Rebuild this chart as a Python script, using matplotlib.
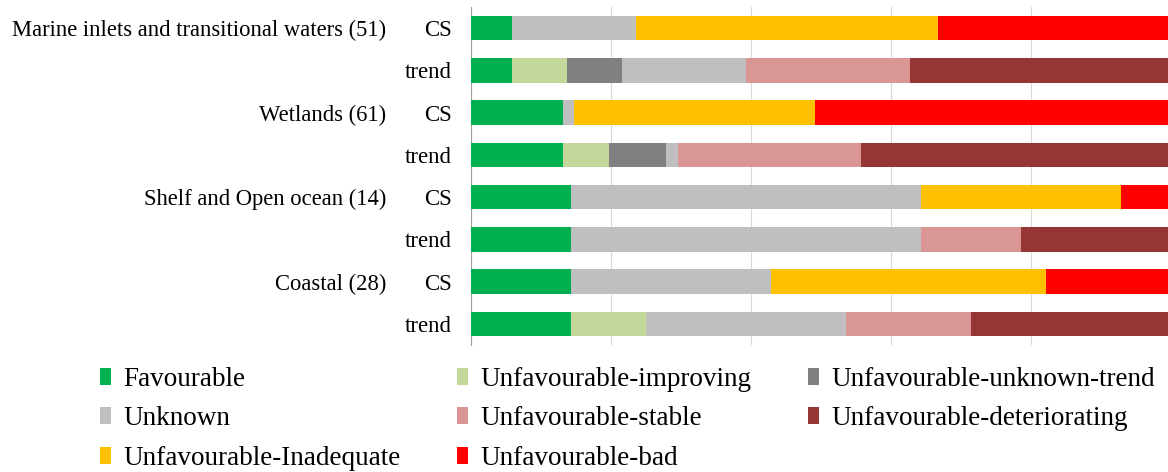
import matplotlib
matplotlib.use("Agg")
import matplotlib.pyplot as plt
import numpy as np
from matplotlib.patches import Patch

plt.rcParams['font.family'] = ['Liberation Serif', 'DejaVu Serif']

groups = ["Marine inlets and transitional waters (51)", "Wetlands (61)",
          "Shelf and Open ocean (14)", "Coastal (28)"]
group_n = [51, 61, 14, 28]
row_kinds = ["CS", "trend"]

categories = ["Favourable", "Unfavourable-improving", "Unfavourable-unknown-trend",
              "Unknown", "Unfavourable-stable", "Unfavourable-deteriorating",
              "Unfavourable-Inadequate", "Unfavourable-bad"]
colors = ["#00B050", "#C4D79B", "#808080", "#BFBFBF", "#DA9694", "#963634",
          "#FFC000", "#FF0000"]

# counts per row (top to bottom), columns follow `categories`
counts = [
    [3, 0, 0, 9, 0, 0, 22, 17],    # Marine CS
    [3, 4, 4, 9, 12, 19, 0, 0],    # Marine trend
    [8, 0, 0, 1, 0, 0, 21, 31],    # Wetlands CS
    [8, 4, 5, 1, 16, 27, 0, 0],    # Wetlands trend
    [2, 0, 0, 7, 0, 0, 4, 1],      # Shelf CS
    [2, 0, 0, 7, 2, 3, 0, 0],      # Shelf trend
    [4, 0, 0, 8, 0, 0, 11, 5],     # Coastal CS
    [4, 3, 0, 8, 5, 8, 0, 0],      # Coastal trend
]

W, H = 1168, 472
fig = plt.figure(figsize=(W / 100, H / 100), dpi=100)
ax = fig.add_axes([471 / W, 1 - 345 / H, 700 / W, 338 / H])

data = np.array(counts, dtype=float)
totals = np.repeat(group_n, 2).astype(float)
pct = data / totals[:, None] * 100
n_rows = len(counts)
y = np.arange(n_rows)
left = np.zeros(n_rows)
for j, cat in enumerate(categories):
    ax.barh(y, pct[:, j], left=left, height=0.58, color=colors[j], label=cat,
            zorder=3, linewidth=0)
    left += pct[:, j]

ax.set_xlim(0, 100)
ax.set_ylim(n_rows - 0.5, -0.5)
ax.set_xticks(np.arange(0, 101, 20))
ax.tick_params(axis='x', length=0, labelbottom=False)
ax.xaxis.grid(True, color='#D9D9D9', linewidth=0.8, zorder=0)
for s in ['top', 'right', 'bottom']:
    ax.spines[s].set_visible(False)
ax.spines['left'].set_color('#A0A0A0')
ax.spines['left'].set_linewidth(0.8)
ax.set_yticks(y)
ax.set_yticklabels([row_kinds[i % 2] for i in range(n_rows)], fontsize=16.5,
                   va='center_baseline')
ax.tick_params(axis='y', length=0, pad=14)

for i, g in enumerate(groups):
    ax.text(-85 / 700, 2 * i, g, transform=ax.get_yaxis_transform(),
            ha='right', va='center_baseline', fontsize=16.3)

order = [0, 3, 6, 1, 4, 7, 2, 5]
handles = [Patch(facecolor=colors[k], edgecolor='none') for k in order]
labels = [categories[k] for k in order]
fig.legend(handles, labels, ncol=3, loc='upper left',
           bbox_to_anchor=(100 / W, 1 - 367 / H), frameon=False, fontsize=19.5,
           handlelength=0.4, handleheight=0.6, handletextpad=0.45,
           columnspacing=2.1, labelspacing=0.53, borderaxespad=0, borderpad=0)

fig.savefig("out.png", dpi=100)
